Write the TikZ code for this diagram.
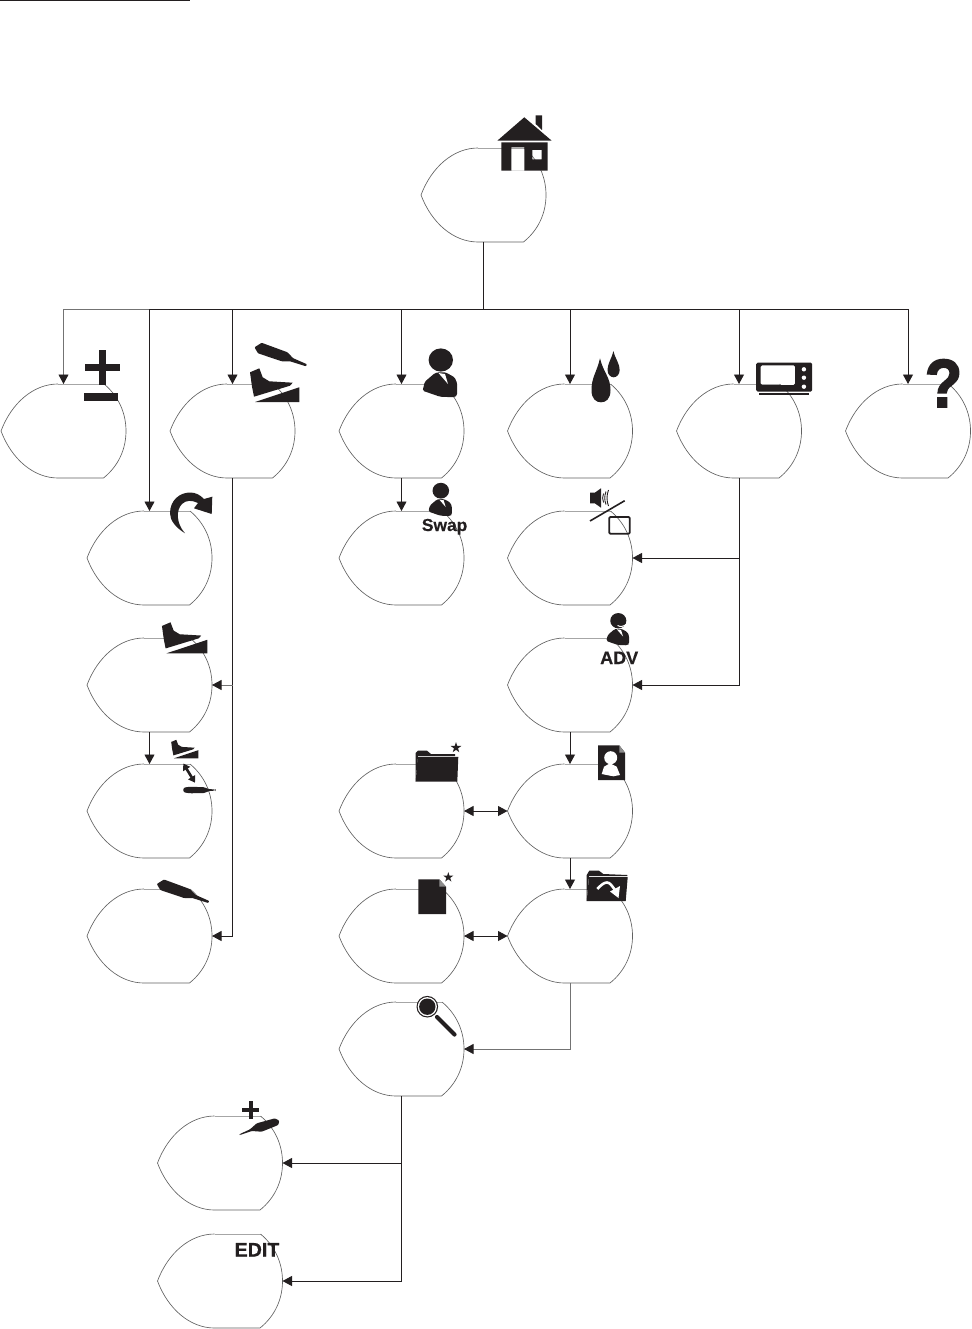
\documentclass[tikz,border=0pt]{standalone}
\usepackage{fontspec}
\setmainfont{Liberation Sans}[BoldFeatures={FakeBold=0.4}]
\newfontfamily\heavyfont[UprightFont=* Bold,UprightFeatures={FakeBold=2.5}]{Liberation Sans}
\usetikzlibrary{arrows.meta}
\definecolor{ink}{HTML}{231F20}
\tikzset{
  bubnode/.style={rectangle,minimum width=125pt,minimum height=94pt,inner sep=0pt,outer sep=0pt},
  bubedge/.style={draw=black!62,line width=0.65pt},
  bubtop/.style={draw=black!35,line width=0.8pt},
  conn/.style={draw=ink,line width=0.95pt},
  conngray/.style={draw=black!55,line width=0.8pt},
  arr/.style={-{Triangle[length=9.5pt,width=10pt,color=ink,fill=ink]}},
  darr/.style={{Triangle[length=9.5pt,width=10pt,color=ink,fill=ink]}-{Triangle[length=9.5pt,width=10pt,color=ink,fill=ink]}},
  ico/.style={fill=ink,draw=none},
  lbl/.style={inner sep=0pt,outer sep=0pt,anchor=base,text=ink,font=\bfseries}
}
\newcommand{\bubble}[3]{%
  \node[bubnode] (#1) at (#2,#3) {};
  \begin{scope}[shift={(#2,#3)}]
    \draw[bubtop] (-5.5,-47) -- (40.5,-47);
    \draw[bubedge] (-5.5,-47) .. controls (-30,-47) and (-52,-28) .. (-62.5,0)
      .. controls (-52,28) and (-30,47) .. (-5.5,47) -- (40,47)
      .. controls (55,35) and (62.5,18) .. (62.5,0)
      .. controls (62.5,-18) and (55,-35) .. (40.5,-47);
  \end{scope}}
\newcommand{\pedal}[3]{%
  \begin{scope}[shift={(#1,#2)},scale=#3]
    \fill[ico] (-49.3,-29.7) -- (-40,-33.7) -- (-36.6,-24.7) -- (-30,-20.7) -- (-6.6,-19.3) -- (-9.3,-16.3) -- (-45.3,-5.3) -- (-47.3,-15.3) -- cycle;
    \fill[ico] (-44.3,0) -- (0,-14.7) -- (0,0) -- cycle;
  \end{scope}}
\newcommand{\handpiece}[2]{%
  \begin{scope}[shift={(#1,#2)}]
    \fill[ico,rounded corners=0.8pt] (-0.5,0) -- (6.7,-4.5) -- (32.5,5) -- (38,10.8) -- (52,17) -- (51,19) -- (35,14) -- (26.7,14) -- (3,6) -- cycle;
  \end{scope}}
\newcommand{\person}[3]{%
  \begin{scope}[shift={(#1,#2)},scale=#3]
    \fill[ico] (0,0) circle[x radius=12.2,y radius=11.6];
    \fill[ico,rounded corners=1.5pt] (-18.2,30.7) -- (-16,21.7) -- (-6.2,13.3) -- (-2.6,12.3) -- (4.7,12.3) -- (13.8,17.3) -- (16.4,23.3) -- (16.4,35) -- (13.8,37.3) -- (-0.8,36.7) -- cycle;
    \fill[white] (-2.3,13) -- (4.2,14) -- (7.2,24) -- cycle;
  \end{scope}}
\newcommand{\drop}[6]{% top x,y; center x,y; half width; bottom y
  \fill[ico] (#1,#2) .. controls (#1+0.35*#5,#2+0.45*#4-0.45*#2) and (#3+#5,#4-0.4*#4+0.4*#2) .. (#3+#5,#4)
    .. controls (#3+#5,#6-3) and (#3+0.5*#5,#6) .. (#3,#6)
    .. controls (#3-0.5*#5,#6) and (#3-#5,#6-3) .. (#3-#5,#4)
    .. controls (#3-#5,#4-0.4*#4+0.4*#2) and (#1-0.35*#5,#2+0.45*#4-0.45*#2) .. (#1,#2) -- cycle;}
\newcommand{\starshape}[3]{%
  \begin{scope}[shift={(#1,#2)},scale=#3]
    \fill[ico] (0,-1) -- (.225,-.309) -- (.951,-.309) -- (.363,.118) -- (.588,.809) -- (0,.382) -- (-.588,.809) -- (-.363,.118) -- (-.951,-.309) -- (-.225,-.309) -- cycle;
  \end{scope}}
\begin{document}
\begin{tikzpicture}[x=1pt,y=-1pt]
\useasboundingbox (0,0) rectangle (971,1329);
% top rule
\coordinate (ruleA) at (0,1);
\coordinate (ruleB) at (190,1);
\draw[draw=ink,line width=1pt] (ruleA) -- (ruleB);
% bubbles
\bubble{home}{483.5}{195}
\bubble{pm}{63.5}{431}
\bubble{pedalhp}{232.5}{431}
\bubble{user}{401.5}{431}
\bubble{drops}{570}{431}
\bubble{tv}{739}{431}
\bubble{help}{908}{431}
\bubble{undo}{149.5}{558}
\bubble{swap}{401.5}{558}
\bubble{sound}{570}{558}
\bubble{foot}{149.5}{685}
\bubble{adv}{570}{685}
\bubble{assign}{149.5}{811}
\bubble{favfolder}{401.5}{811}
\bubble{contact}{570}{811}
\bubble{hand}{149.5}{936}
\bubble{favdoc}{401.5}{936}
\bubble{foldermove}{570}{936}
\bubble{search}{401.5}{1049}
\bubble{addhp}{220}{1163}
\bubble{edit}{220}{1281}
% connectors
\coordinate (bus) at (483.5,309);
\draw[conn] (home.south) -- (bus);
\draw[conn] (bus -| undo.north) -- (bus -| help.north);
\draw[conngray] (bus -| pm.north) -- (bus -| undo.north);
\draw[conngray,arr] (bus -| pm.north) -- (pm.north);
\draw[conn,arr] (bus -| undo.north) -- (undo.north);
\draw[conn,arr] (bus -| pedalhp.north) -- (pedalhp.north);
\draw[conn,arr] (bus -| user.north) -- (user.north);
\draw[conn,arr] (bus -| drops.north) -- (drops.north);
\draw[conn,arr] (bus -| tv.north) -- (tv.north);
\draw[conn,arr] (bus -| help.north) -- (help.north);
\draw[conn,arr] (user.south) -- (swap.north);
\draw[conn,arr] (pedalhp.south) |- (hand.east);
\draw[conngray,arr] (pedalhp.south |- foot.east) -- (foot.east);
\draw[conn,arr] (foot.south) -- (assign.north);
\draw[conn,arr] (tv.south) |- (sound.east);
\draw[conn,arr] (tv.south) |- (adv.east);
\draw[conn,arr] (adv.south) -- (contact.north);
\draw[conn,arr] (contact.south) -- (foldermove.north);
\draw[conn,darr] (favfolder.east) -- (contact.west);
\draw[conn,darr] (favdoc.east) -- (foldermove.west);
\draw[conngray,arr] (foldermove.south) |- (search.east);
\draw[conn,arr] (search.south) |- (addhp.east);
\draw[conn,arr] (search.south) |- (edit.east);
% house
\fill[ico] (524.3,117.3) -- (551.7,140.7) -- (497.3,140.7) -- cycle;
\fill[ico] (535.7,115.3) -- (542,115.3) -- (542,130) -- (535.7,124) -- cycle;
\fill[ico,even odd rule] (501.3,142.3) rectangle (547.7,170.7) (511.3,147.3) rectangle (524.3,170.7) (532.3,150) rectangle (541.7,159.3);
% plus-minus
\fill[ico] (99.3,350) rectangle (106,385);
\fill[ico] (85,364) rectangle (120,370.7);
\fill[ico] (84,393) rectangle (118.3,401);
% pedals and handpieces
\handpiece{255}{347.3}
\pedal{299.3}{402}{1}
\pedal{207.3}{653.3}{0.92}
\pedal{198.3}{758.3}{0.55}
\handpiece{157.3}{884}
% double arrow beside small pedal
\draw[draw=ink,line width=2.6pt,{Triangle[length=6.5pt,width=8pt,color=ink,fill=ink]}-{Triangle[length=6.5pt,width=8pt,color=ink,fill=ink]}] (183.3,763.5) -- (195,782.7);
% small handpiece
\fill[ico,rounded corners=1.5pt] (183.3,787.7) -- (190,786.7) -- (205,787.3) -- (208,789) -- (215.5,789.5) -- (215.5,790.5) -- (208,791.2) -- (205,793) -- (190,793.3) -- (183.3,792.3) -- cycle;
% person, swap, adv
\person{440.8}{360}{1}
\person{440.8}{490.7}{0.68}
\node[lbl,font=\bfseries\fontsize{17.4}{20}\selectfont] (swaplabel) at (444.6,531) {Swap};
\person{618.3}{620.7}{0.66}
\draw[white,line width=1pt] (617.5,625.5) .. controls (620,627) and (624,626.5) .. (626,624.5);
\node[lbl,font=\bfseries\fontsize{18}{20}\selectfont] (advlabel) at (619.2,664) {ADV};
% drops
\drop{600}{358.3}{601}{390}{9.5}{402.3}
\drop{613.4}{351}{613.6}{370.5}{6}{377.3}
% tv
\fill[ico,even odd rule,rounded corners=1.5pt] (756.2,362.7) rectangle (812.2,391.7) (760.5,365.3) rectangle (795.1,385);
\fill[white] (803.9,369.3) circle[radius=2.2] (803.9,377.7) circle[radius=2.2] (803.9,386.7) circle[radius=2.2];
\fill[ico] (759,392.8) rectangle (809,395);
% question mark
\node[lbl,font=\heavyfont\fontsize{68}{70}\selectfont] (helpmark) at (943.5,407) {\scalebox{.9}[1]{?}};
% undo arrow
\fill[ico] (185,533.3) .. controls (175,527) and (170,520) .. (170,513.3) .. controls (170,500) and (180,492.5) .. (190,492.5) .. controls (196,492.5) and (200,495) .. (204,499) -- (212.3,496.7) -- (211.7,514) -- (194,508.3) -- (198,503) .. controls (192,500) and (186,500) .. (182,504) .. controls (176,510) and (176,523) .. (185,533.3) -- cycle;
% speaker / monitor
\fill[ico] (590,492.7) -- (594.8,492.7) -- (601,488.3) -- (601,507.7) -- (594.8,503.3) -- (590,503.3) -- cycle;
\draw[ink,line width=0.9pt] (603.5,493.5) .. controls (602.3,497) and (602.3,499) .. (603.5,502.5);
\draw[ink,line width=0.9pt] (606,491.5) .. controls (604.3,496) and (604.3,500) .. (606,504.5);
\draw[ink,line width=0.9pt] (608.5,490) .. controls (606.5,495) and (606.5,501) .. (608.5,506);
\draw[ink,line width=1.6pt] (590,521) -- (624.7,500.7);
\draw[ink,line width=1.8pt,rounded corners=1.2pt] (609.2,517) rectangle (629.8,533.8);
% favourite folder
\fill[ico] (415.7,781.7) -- (415.7,753) -- (418,750.7) -- (427,750.7) -- (431,754) -- (455,754) -- (455,756) -- (418,756) -- cycle;
\fill[ico] (417.7,756.8) -- (458.3,756.8) -- (457.3,781.7) -- (415.7,781.7) -- cycle;
\starshape{456}{747.7}{5.6}
% contact document
\fill[ico] (598,745.3) -- (619.3,745.3) -- (625,752.7) -- (625,780) -- (598,780) -- cycle;
\fill[white] (610.7,757.7) circle[radius=6.5];
\fill[white] (601.7,774) -- (604,766.7) -- (610,763.3) -- (616.7,766.7) -- (620,775) -- (613.3,776.3) -- cycle;
\fill[black!45] (619.3,745.3) -- (625,752.7) -- (619.3,752.7) -- cycle;
% favourite document
\fill[ico] (418.3,879.3) -- (439.3,879.3) -- (446,886.7) -- (446,914) -- (418.3,914) -- cycle;
\fill[black!45] (439.3,879.3) -- (446,886.7) -- (439.3,886.7) -- cycle;
\starshape{448.3}{877.3}{5.2}
% folder with arrow
\fill[ico] (586.7,901) -- (586.7,875) -- (589.3,870.7) -- (599,870.7) -- (603.3,874) -- (627.3,875) -- (627.3,876.2) -- (589,876.2) -- cycle;
\fill[ico] (589,877) -- (627.7,877) -- (625.7,901) -- (586.7,901) -- cycle;
\draw[white,line width=2.6pt] (597.3,889) .. controls (601,885) and (604,882.5) .. (607,882.5) .. controls (610,882.5) and (612,886) .. (615,890);
\fill[white] (610,891.5) -- (620,886) -- (618.5,898) -- cycle;
% magnifier
\fill[ico] (427.3,1006.7) circle[radius=10.8];
\fill[white] (427.3,1006.7) circle[radius=9.6];
\fill[ico] (427.3,1006.7) circle[radius=8.2];
\draw[ink,line width=4.2pt,line cap=round] (437,1017) -- (454.5,1034.5);
% plus handpiece
\fill[ico] (249.3,1101) rectangle (252.7,1119);
\fill[ico] (241.7,1108.3) rectangle (259.3,1111.7);
\fill[ico,rounded corners=1pt] (239.3,1134.3) -- (250,1129.3) -- (256.7,1123.3) -- (275,1118.3) -- (279.3,1120.7) -- (278.3,1125) -- (261.7,1131.7) -- (251.7,1131) -- (240,1135) -- cycle;
% edit
\node[lbl,font=\bfseries\fontsize{19.6}{22}\selectfont] (editlabel) at (257,1256.5) {EDIT};
\end{tikzpicture}
\end{document}
